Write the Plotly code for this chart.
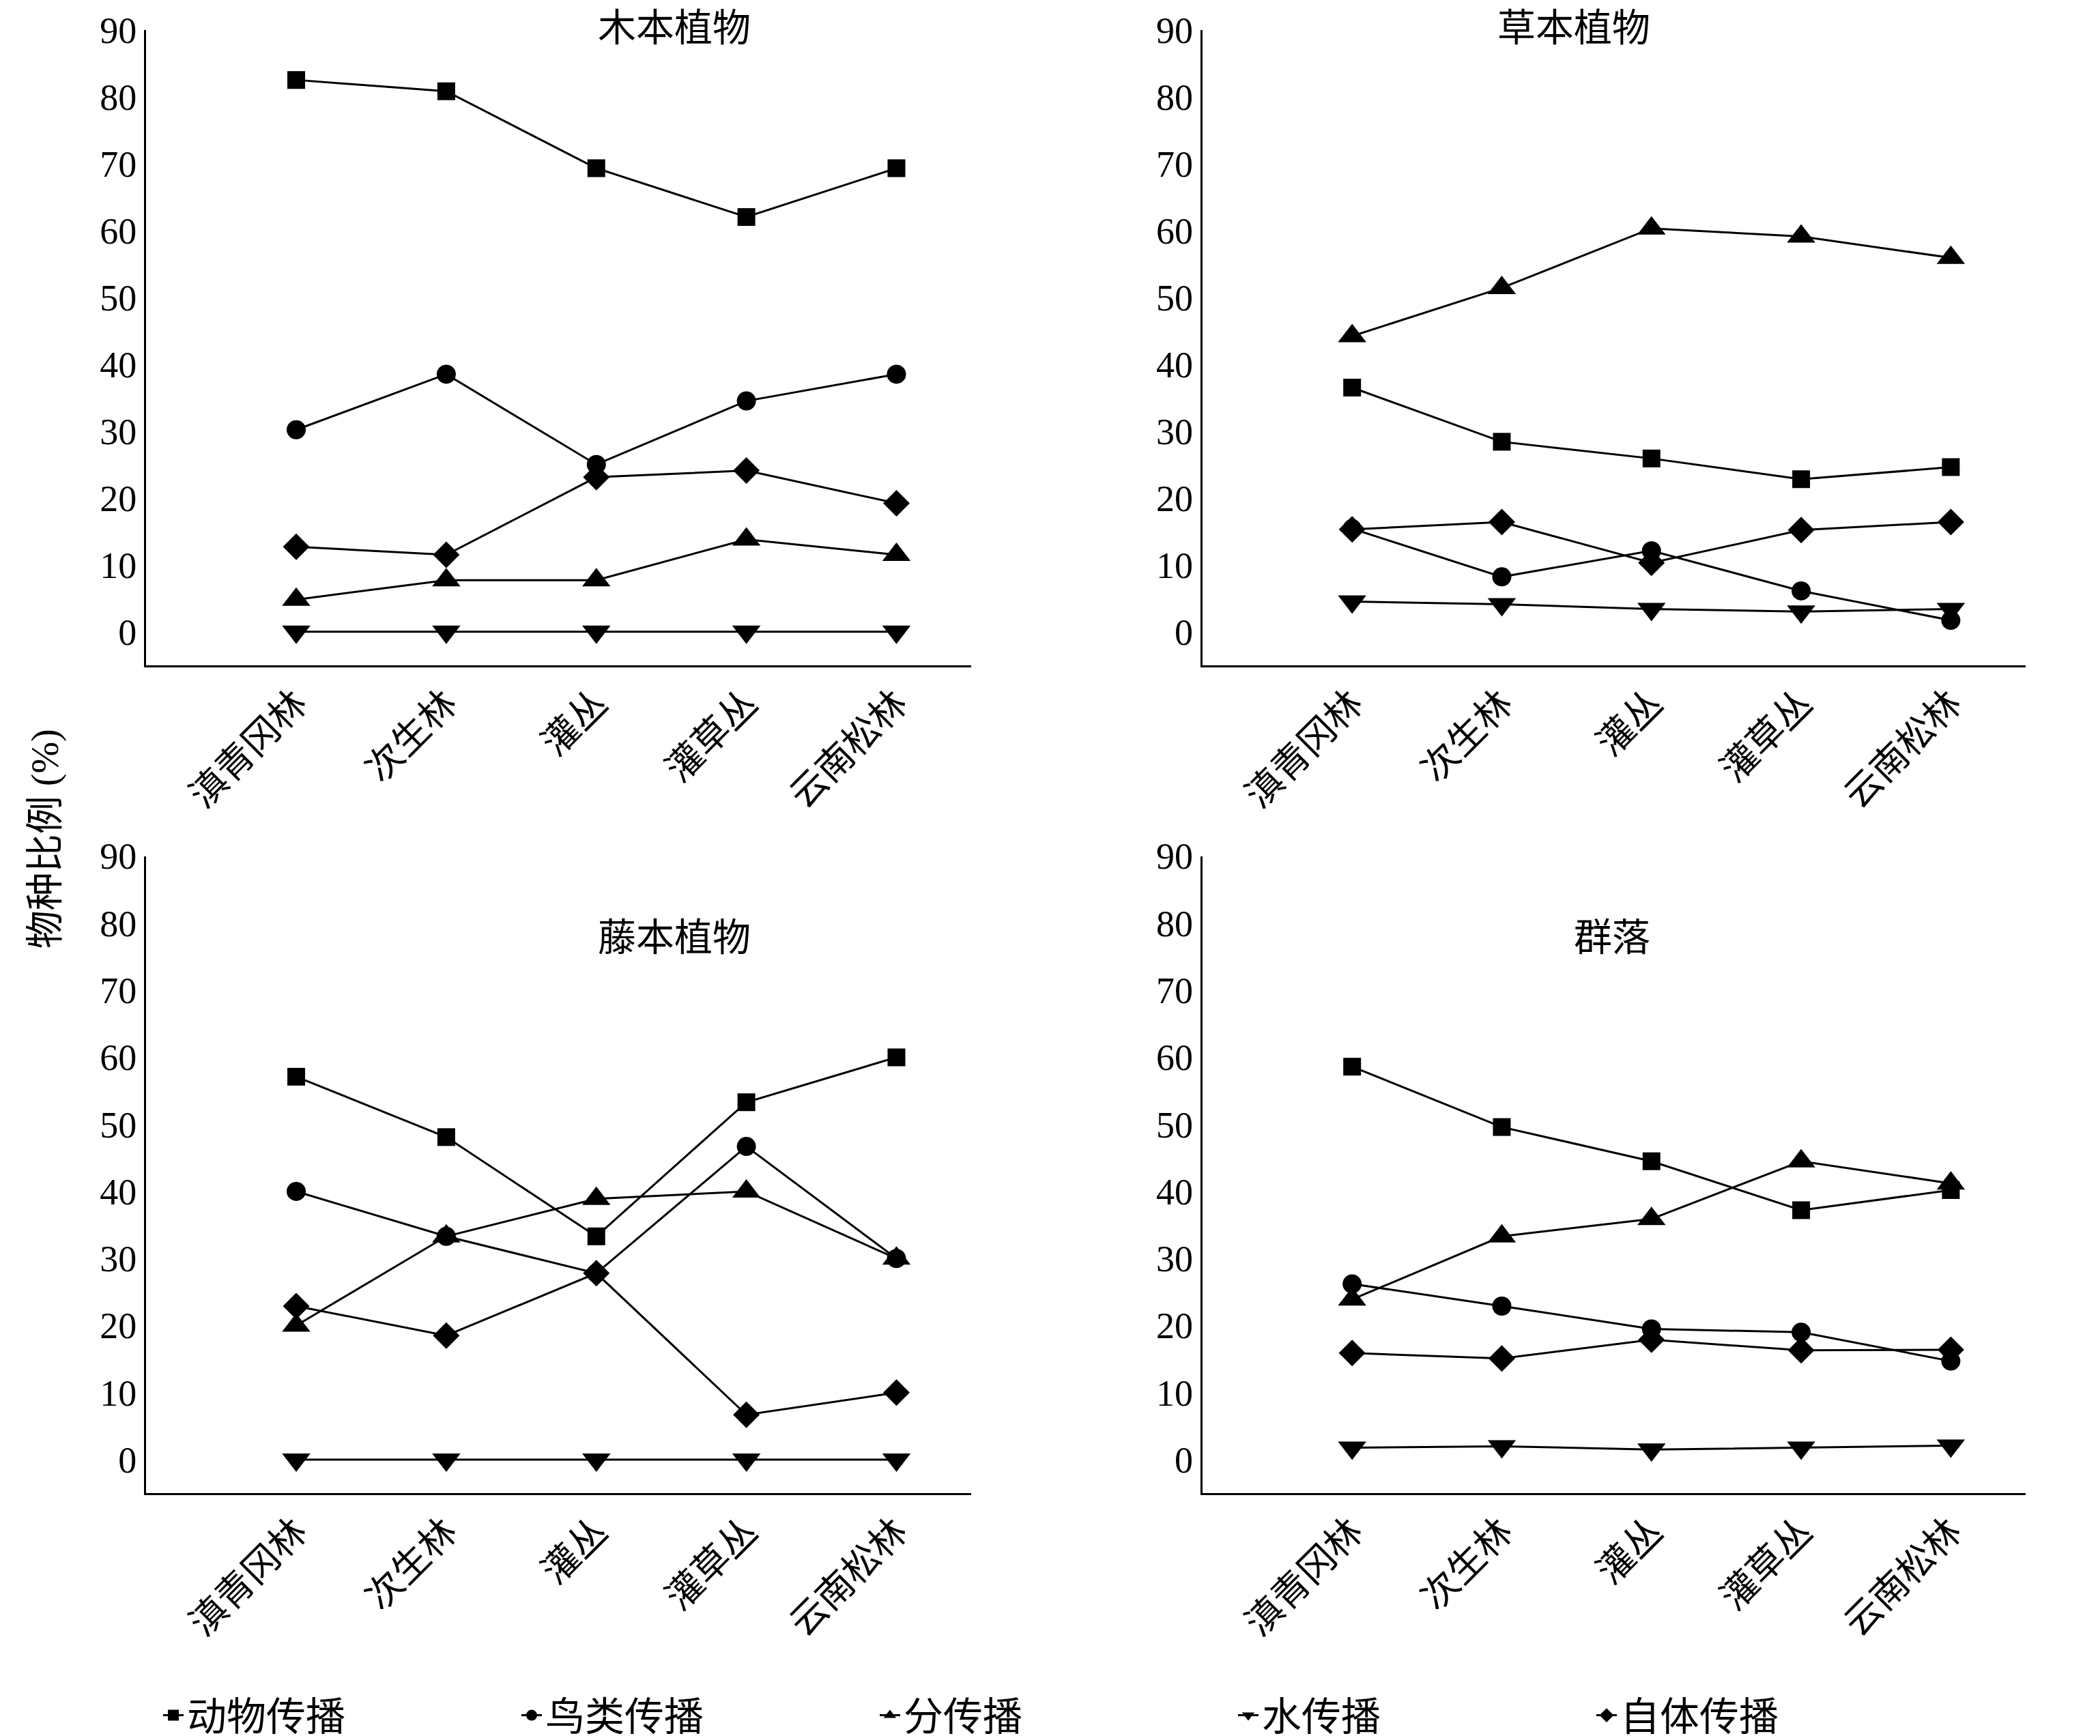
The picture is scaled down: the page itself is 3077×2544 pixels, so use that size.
import plotly.graph_objects as go

cats = ["滇青冈林", "次生林", "灌丛", "灌草丛", "云南松林"]
series = ["动物传播", "鸟类传播", "分传播", "水传播", "自体传播"]
symbols = ["square", "circle", "triangle-up", "triangle-down", "diamond"]
msizes = [26, 28, 36, 36, 30]
titles = ["木本植物", "草本植物", "藤本植物", "群落"]

woody = [[82.5, 80.8, 69.3, 62.0, 69.3], [30.2, 38.5, 25.0, 34.5, 38.5], [4.8, 7.7, 7.7, 13.8, 11.5], [0, 0, 0, 0, 0], [12.7, 11.5, 23.1, 24.1, 19.2]]
herb = [[36.5, 28.4, 25.9, 22.8, 24.6], [15.4, 8.2, 12.1, 6.1, 1.7], [44.2, 51.4, 60.3, 59.1, 55.9], [4.5, 4.1, 3.4, 3.0, 3.4], [15.3, 16.4, 10.3, 15.2, 16.4]]
liana = [[57.1, 48.1, 33.3, 53.3, 60.0], [40.0, 33.3, 27.8, 46.7, 30.0], [20.0, 33.3, 38.9, 40.0, 30.0], [0, 0, 0, 0, 0], [22.9, 18.5, 27.8, 6.7, 10.0]]
community = [[58.6, 49.6, 44.5, 37.2, 40.2], [26.2, 22.9, 19.5, 19.0, 14.7], [23.9, 33.3, 35.9, 44.5, 41.2], [1.8, 2.0, 1.5, 1.8, 2.1], [15.9, 15.1, 17.9, 16.3, 16.4]]
panels = [woody, herb, liana, community]

FONT = "Liberation Serif, Noto Sans CJK SC"
fig = go.Figure()
xdom = [[0.067, 0.46], [0.570, 0.962]]
ydom = [[0.620, 0.986], [0.143, 0.510]]
x_idx = list(range(5))
for p, data in enumerate(panels):
    r, c = divmod(p, 2)
    n = p + 1
    xa = "x" if n == 1 else f"x{n}"
    ya = "y" if n == 1 else f"y{n}"
    for s in range(5):
        fig.add_trace(go.Scatter(x=x_idx, y=data[s], mode="lines+markers", name=series[s],
                                 showlegend=(p == 0), xaxis=xa, yaxis=ya,
                                 line=dict(color="black", width=3),
                                 marker=dict(symbol=symbols[s], size=msizes[s], color="black")))
    axkw = dict(showline=True, linecolor="black", linewidth=3, showgrid=False, zeroline=False,
                ticks="outside", ticklen=0, tickfont=dict(family=FONT, size=54, color="black"))
    fig.layout[("xaxis" if n == 1 else f"xaxis{n}")] = dict(domain=xdom[c], range=[-1, 4.5], tickmode="array",
        tickvals=x_idx, ticktext=cats, tickangle=-45, anchor=ya, **axkw)
    fig.layout[("yaxis" if n == 1 else f"yaxis{n}")] = dict(domain=ydom[r], range=[-5, 90], tickvals=list(range(0, 91, 10)),
        anchor=xa, **axkw)
    cx = xdom[c][0] + (xdom[c][1] - xdom[c][0]) * 3 / 5.5
    if r == 0:
        fig.add_annotation(x=cx, y=1.0, xref="paper", yref="paper", text=titles[p], showarrow=False,
                           yanchor="top", font=dict(family=FONT, size=56, color="black"))
    else:
        fig.add_annotation(x=cx, y=0.463, xref="paper", yref="paper", text=titles[p], showarrow=False,
                           yanchor="middle", font=dict(family=FONT, size=56, color="black"))
fig.add_annotation(x=0.008, y=0.52, xref="paper", yref="paper", text="物种比例 (%)", textangle=-90,
                   showarrow=False, font=dict(family=FONT, size=56, color="black"))
fig.update_layout(width=3077, height=2544, margin=dict(l=0, r=0, t=0, b=0, autoexpand=False),
                  plot_bgcolor="white", paper_bgcolor="white",
                  legend=dict(orientation="h", x=0.5, xanchor="center", y=0.015, yanchor="middle",
                              font=dict(family=FONT, size=58, color="black"),
                              entrywidth=480, entrywidthmode="pixels", tracegroupgap=0))
fig.write_html("out.html")
